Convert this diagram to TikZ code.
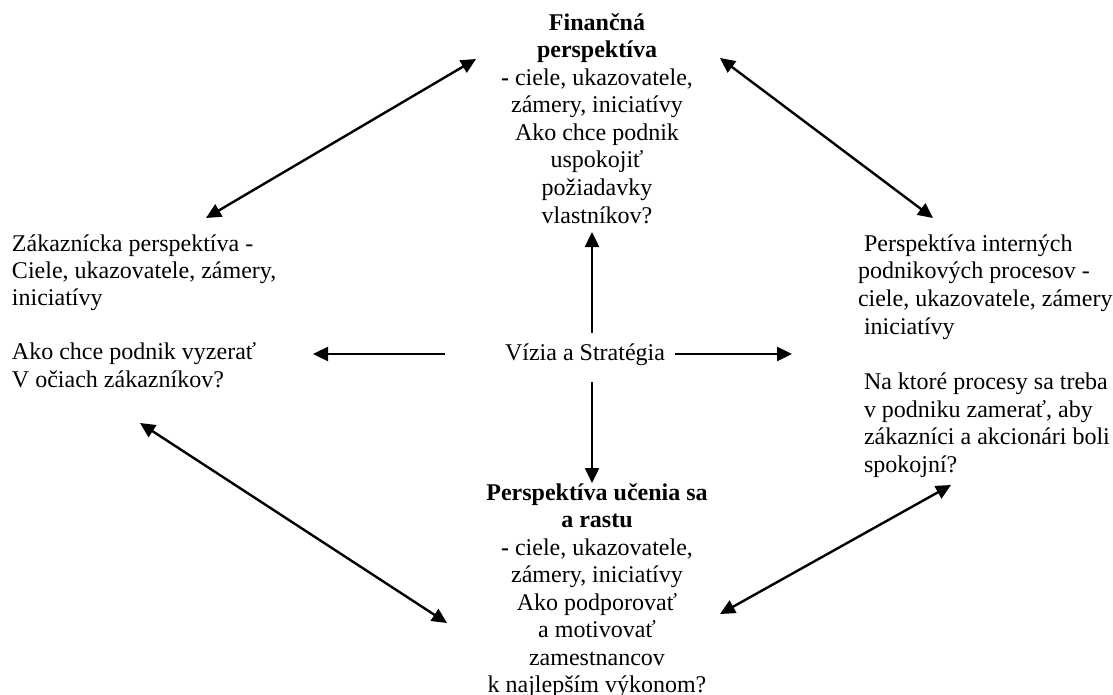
\documentclass[tikz,border=0pt]{standalone}
\usepackage{fontspec}
\setmainfont{Liberation Serif}
\usetikzlibrary{arrows.meta}
\tikzset{
  txt/.style={inner sep=0pt, outer sep=0pt, font=\fontsize{24}{27.5}\selectfont},
  sidetxt/.style={inner sep=0pt, outer sep=0pt, align=left, anchor=north west},
  midtxt/.style={inner sep=0pt, outer sep=0pt, align=center, anchor=north},
  conn/.style={line width=2.4pt, -{Triangle[length=15pt,width=14pt]}},
  biconn/.style={line width=2.4pt, {Triangle[length=15pt,width=14pt]}-{Triangle[length=15pt,width=14pt]}}
}
\newcommand{\fst}{\rule{0pt}{20pt}}
\begin{document}
\begin{tikzpicture}[x=1pt,y=-1pt]
\useasboundingbox (0,0) rectangle (1113,695);
% text blocks (first baseline = node top + 20)
\node[midtxt, font=\fontsize{24}{27.6}\selectfont] (fin) at (597,10)
  {\fst\textbf{Finančná}\\ \textbf{perspektíva}\\ \textbf{-} ciele, ukazovatele,\\ zámery, iniciatívy\\ Ako chce podnik\\ uspokojiť\\ požiadavky\\ vlastníkov?};
\node[sidetxt, font=\fontsize{24}{27.1}\selectfont] (cust) at (12,231.5)
  {\fst Zákaznícka perspektíva -\\ Ciele, ukazovatele, zámery,\\ iniciatívy\\[27.1pt] Ako chce podnik vyzerať\\ V očiach zákazníkov?};
\node[sidetxt, font=\fontsize{24}{27.7}\selectfont] (proc) at (858,231)
  {\fst\hspace{6pt}Perspektíva interných\\ podnikových procesov -\\ ciele, ukazovatele, zámery\\ \hspace{6pt}iniciatívy\\[27.7pt] \hspace{6pt}Na ktoré procesy sa treba\\ \hspace{6pt}v podniku zamerať, aby\\ \hspace{6pt}zákazníci a akcionári boli\\ \hspace{6pt}spokojní?};
\node[midtxt, font=\fontsize{24}{27.5}\selectfont] (learn) at (597,480)
  {\fst\textbf{Perspektíva učenia sa}\\ \textbf{a rastu}\\ \textbf{-} ciele, ukazovatele,\\ zámery, iniciatívy\\ Ako podporovať\\ a motivovať\\ zamestnancov\\ k najlepším výkonom?};
\node[txt, anchor=base] (vision) at (585,360.5) {Vízia a Stratégia};
% connector end points
\coordinate (ftl) at (476,59);
\coordinate (ctr) at (206,218);
\coordinate (ftr) at (720,58);
\coordinate (ptl) at (933,218);
\coordinate (cbr) at (140,423);
\coordinate (ltl) at (447,623);
\coordinate (ltr) at (720,614);
\coordinate (pbl) at (951,485);
\coordinate (vu0) at (592,333);
\coordinate (vu1) at (592,232);
\coordinate (vd0) at (592,382);
\coordinate (vd1) at (592,483);
\coordinate (vl0) at (445,354);
\coordinate (vl1) at (313,354);
\coordinate (vr0) at (675,354);
\coordinate (vr1) at (792,354);
% connectors
\draw[biconn] (ctr) -- (ftl);
\draw[biconn] (ftr) -- (ptl);
\draw[biconn] (cbr) -- (ltl);
\draw[biconn] (ltr) -- (pbl);
\draw[conn] (vu0) -- (vu1);
\draw[conn] (vd0) -- (vd1);
\draw[conn] (vl0) -- (vl1);
\draw[conn] (vr0) -- (vr1);
\end{tikzpicture}
\end{document}
